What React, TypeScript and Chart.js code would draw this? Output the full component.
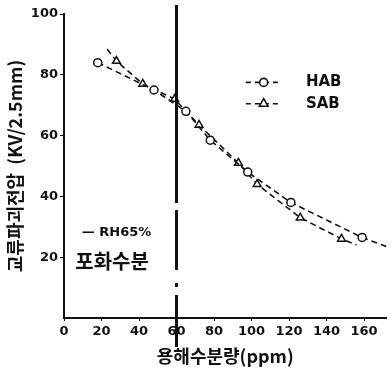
import { useEffect, useRef } from 'react';
import { Chart, registerables } from 'chart.js';

Chart.register(...registerables);

// Data
const HAB_X = [18, 48, 65, 78, 98, 121, 159, 172];
const HAB_Y = [84, 75, 68, 58.5, 48, 38, 26.5, 23.5];
const SAB_X = [23, 28, 42, 59, 72, 93, 103, 126, 148, 156];
const SAB_Y = [88.5, 84.5, 77, 72, 63.5, 51, 44, 33, 26, 24];
const X_TICKS = [0, 20, 40, 60, 80, 100, 120, 140, 160];
const Y_TICKS = [20, 40, 60, 80, 100];
const RH_X = 60;
const SERIES_LABELS = ['HAB', 'SAB'];
const RH_LABEL = '— RH65%';
const SAT_LABEL = '포화수분';
const X_TITLE = '용해수분량(ppm)';
const Y_TITLE = '교류파괴전압  (KV/2.5mm)';

const INK = '#111';
const KFONT = "'Noto Sans CJK KR', 'DejaVu Sans', sans-serif";
const NFONT = "'DejaVu Sans', 'Liberation Sans', sans-serif";

function drawTriangle(ctx: CanvasRenderingContext2D, x: number, y: number, r: number) {
  ctx.beginPath();
  ctx.moveTo(x, y - r);
  ctx.lineTo(x + r * 0.87, y + r * 0.5);
  ctx.lineTo(x - r * 0.87, y + r * 0.5);
  ctx.closePath();
  ctx.fillStyle = '#fff';
  ctx.fill();
  ctx.stroke();
}

export default function App() {
  const ref = useRef<HTMLCanvasElement>(null);

  useEffect(() => {
    const canvas = ref.current;
    if (!canvas) return;

    const overlay = {
      id: 'overlay',
      afterDatasetsDraw(chart: any) {
        const ctx: CanvasRenderingContext2D = chart.ctx;
        const xs = chart.scales.x;
        const ys = chart.scales.y;
        const area = chart.chartArea;
        ctx.save();
        // RH65% saturation line
        const vx = xs.getPixelForValue(RH_X);
        ctx.strokeStyle = INK;
        ctx.lineWidth = 3;
        ctx.setLineDash([198, 7, 60, 13, 4, 8, 60]);
        ctx.beginPath();
        ctx.moveTo(vx, area.top - 9);
        ctx.lineTo(vx, area.bottom + 29);
        ctx.stroke();
        ctx.setLineDash([]);

        // annotation texts
        ctx.fillStyle = INK;
        ctx.textBaseline = 'middle';
        ctx.textAlign = 'left';
        ctx.font = `bold 13px ${NFONT}`;
        ctx.fillText(RH_LABEL, xs.getPixelForValue(9.5), ys.getPixelForValue(28));
        ctx.font = `bold 20px ${KFONT}`;
        ctx.fillText(SAT_LABEL, xs.getPixelForValue(6), ys.getPixelForValue(18.5));

        // legend
        const lx0 = xs.getPixelForValue(97);
        const lx1 = xs.getPixelForValue(116);
        const tx = xs.getPixelForValue(129);
        const rows = [ys.getPixelForValue(77.5), ys.getPixelForValue(70.5)];
        ctx.lineWidth = 1.6;
        rows.forEach((ry, i) => {
          ctx.setLineDash([5, 4]);
          ctx.beginPath();
          ctx.moveTo(lx0, ry);
          ctx.lineTo(lx1, ry);
          ctx.stroke();
          ctx.setLineDash([]);
          const mx = (lx0 + lx1) / 2;
          if (i === 0) {
            ctx.beginPath();
            ctx.arc(mx, ry, 4, 0, Math.PI * 2);
            ctx.fillStyle = '#fff';
            ctx.fill();
            ctx.stroke();
          } else {
            drawTriangle(ctx, mx, ry, 5);
          }
          ctx.fillStyle = INK;
          ctx.font = `bold 15px ${NFONT}`;
          ctx.fillText(SERIES_LABELS[i], tx, ry);
        });
        ctx.restore();
      },
    };

    const chart = new Chart(canvas, {
      type: 'scatter',
      data: {
        datasets: [
          {
            label: SERIES_LABELS[0],
            data: HAB_X.map((x, i) => ({ x, y: HAB_Y[i] })),
            showLine: true,
            borderColor: INK,
            borderWidth: 1.6,
            borderDash: [6, 4],
            pointStyle: 'circle',
            pointRadius: (c: any) => (c.dataIndex === HAB_X.length - 1 ? 0 : 4),
            pointBackgroundColor: '#fff',
            pointBorderColor: INK,
            pointBorderWidth: 1.5,
          },
          {
            label: SERIES_LABELS[1],
            data: SAB_X.map((x, i) => ({ x, y: SAB_Y[i] })),
            showLine: true,
            borderColor: INK,
            borderWidth: 1.6,
            borderDash: [6, 4],
            pointStyle: 'triangle',
            pointRadius: (c: any) => (c.dataIndex === 0 || c.dataIndex === SAB_X.length - 1 ? 0 : 4.5),
            pointBackgroundColor: '#fff',
            pointBorderColor: INK,
            pointBorderWidth: 1.5,
          },
        ],
      },
      options: {
        animation: false,
        responsive: false,
        layout: { padding: { top: 14, right: 2, left: 0, bottom: 0 } },
        plugins: { legend: { display: false }, tooltip: { enabled: false } },
        scales: {
          x: {
            type: 'linear',
            min: 0,
            max: 172,
            afterBuildTicks: (s: any) => {
              s.ticks = X_TICKS.map((v) => ({ value: v }));
            },
            afterFit: (s: any) => {
              s.height = 64;
            },
            grid: { drawOnChartArea: false, drawTicks: true, tickLength: 3, color: INK },
            border: { color: INK, width: 2 },
            ticks: { color: INK, padding: 3, font: { size: 13, weight: 'bold', family: NFONT } },
            title: {
              display: true,
              text: X_TITLE,
              color: INK,
              font: { size: 18, weight: 'bold', family: KFONT },
              padding: { top: 0, bottom: 15 },
            },
          },
          y: {
            type: 'linear',
            min: 0,
            max: 100,
            afterBuildTicks: (s: any) => {
              s.ticks = Y_TICKS.map((v) => ({ value: v }));
            },
            afterFit: (s: any) => {
              s.width = 64;
            },
            grid: { drawOnChartArea: false, drawTicks: true, tickLength: 4, color: INK },
            border: { color: INK, width: 2 },
            ticks: { color: INK, padding: 2, font: { size: 13, weight: 'bold', family: NFONT } },
            title: {
              display: true,
              text: Y_TITLE,
              color: INK,
              font: { size: 18, weight: 'bold', family: KFONT },
              padding: { top: 4, bottom: 0 },
            },
          },
        },
      } as any,
      plugins: [overlay],
    });

    return () => chart.destroy();
  }, []);

  return (
    <div style={{ position: 'fixed', left: 0, top: 0, width: 392, height: 382, background: '#fff' }}>
      <canvas ref={ref} width={392} height={382} style={{ display: 'block' }} />
    </div>
  );
}
